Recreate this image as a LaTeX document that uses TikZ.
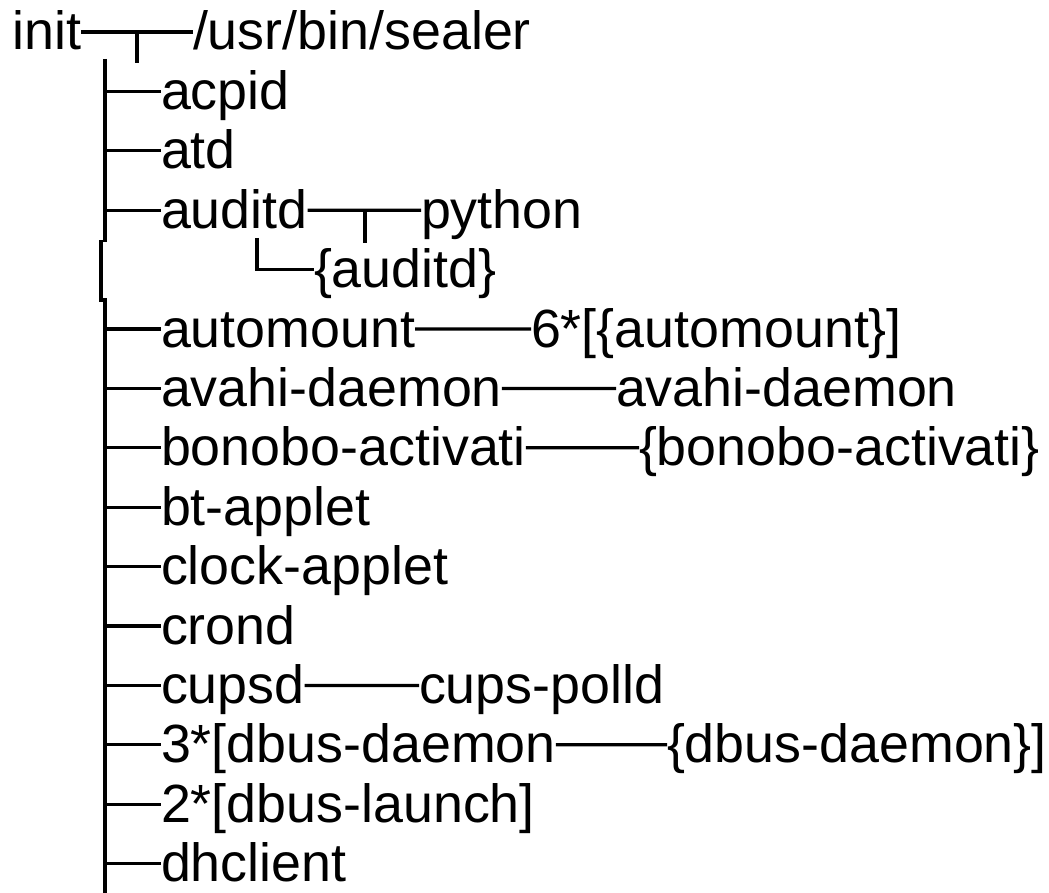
\documentclass[tikz,border=0pt]{standalone}
\usepackage{fontspec}
\setmainfont{Liberation Sans}
\begin{document}
\begin{tikzpicture}[x=1pt,y=-1pt,
  proc/.style={inner sep=0pt, outer sep=0pt, anchor=west,
    text height=36pt, text depth=0pt,
    font=\fontsize{53.8}{60}\selectfont},
  wire/.style={line width=3.2pt, line cap=butt}]
\useasboundingbox (0,0) rectangle (1049,893);

% root and its first child
\node[proc] (init) at (12.5,32) {init};
\node[proc] (sealer) at (193,32) {/usr/bin/sealer};
\draw[wire] (init) -- (sealer);
\coordinate (tA) at (137,32);
\coordinate (tB) at (137,63);
\draw[wire] (tA) -- (tB);

% children hanging off the trunk
\foreach \i/\nm/\txt in {1/acpid/acpid, 2/atd/atd, 3/auditd/auditd,
    5/automount/automount, 6/avahi/avahi-daemon,
    7/bonobo/bonobo-activati, 8/bt/bt-applet, 9/clock/clock-applet,
    10/crond/crond, 11/cupsd/cupsd, 12/dbusd/3*[dbus-daemon,
    13/dbusl/2*[dbus-launch], 14/dhc/dhclient}{
  \node[proc] (\nm) at (161,32+59.4*\i) {\txt};
  \coordinate (j\nm) at (105,32+59.4*\i);
  \draw[wire] (j\nm) -- (\nm);
}

% the trunk, with its slight jog beside {auditd}
\coordinate (k1) at (105,59);
\coordinate (k2) at (105,242);
\coordinate (k3) at (101,240);
\coordinate (k4) at (101,302);
\coordinate (k5) at (105,298);
\coordinate (k6) at (105,893);
\draw[wire] (k1) -- (k2);
\draw[wire] (k3) -- (k4);
\draw[wire] (k5) -- (k6);

% auditd's threads
\node[proc] (python) at (421,210.2) {python};
\node[proc] (audthr) at (314,269.6) {\{auditd\}};
\draw[wire] (auditd) -- (python);
\coordinate (uA) at (365,210.2);
\coordinate (uB) at (365,243);
\draw[wire] (uA) -- (uB);
\coordinate (lA) at (257,238);
\draw[wire] (lA) |- (audthr);

% grandchildren on the same row
\node[proc] (automt) at (531,329) {6*[\{automount\}]};
\draw[wire] (automount) -- (automt);
\node[proc] (avahi2) at (616,388.4) {avahi-daemon};
\draw[wire] (avahi) -- (avahi2);
\node[proc] (bonobo2) at (639,447.8) {\{bonobo-activati\}};
\draw[wire] (bonobo) -- (bonobo2);
\node[proc] (polld) at (419,685.4) {cups-polld};
\draw[wire] (cupsd) -- (polld);
\node[proc] (dbusthr) at (667,744.8) {\{dbus-daemon\}]};
\draw[wire] (dbusd) -- (dbusthr);
\end{tikzpicture}
\end{document}
